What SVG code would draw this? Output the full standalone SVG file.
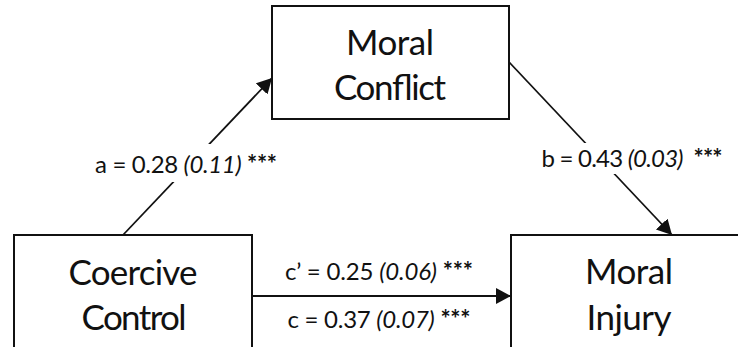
<svg xmlns="http://www.w3.org/2000/svg" width="738" height="347" viewBox="0 0 738 347">
  <style>
    .box { fill: #ffffff; stroke: #111111; stroke-width: 2; }
    .node-label { font-family: Lato, "Open Sans", "Liberation Sans", sans-serif; font-size: 35px; fill: #111111; text-anchor: middle; }
    .edge-label { font-family: Lato, "Open Sans", "Liberation Sans", sans-serif; font-size: 24px; fill: #111111; text-anchor: middle; white-space: pre; }
    .edge-label .se { font-style: italic; }
    .edge-label .sig { font-weight: bold; }
    .conn { stroke: #111111; stroke-width: 1.8; fill: none; marker-end: url(#head); }
    .knockout { fill: #ffffff; }
  </style>
  <defs>
    <marker id="head" markerUnits="userSpaceOnUse" markerWidth="16" markerHeight="17" refX="15" refY="8" orient="auto">
      <path d="M0,0 L15,8 L0,16 z" fill="#111111"/>
    </marker>
  </defs>

  <rect width="738" height="347" fill="#ffffff"/>

  <!-- paths between the three variables -->
  <g id="connectors">
    <line class="conn" x1="123" y1="235" x2="272" y2="78"/>
    <line class="conn" x1="509" y1="62" x2="672" y2="235"/>
    <line class="conn" x1="252" y1="296" x2="511" y2="296"/>
    <!-- clear the lines behind the path coefficients -->
    <rect class="knockout" x="150" y="144" width="80" height="38"/>
    <rect class="knockout" x="570" y="143" width="60" height="31"/>
    <text class="edge-label" x="186" y="173" textLength="182">a = 0.28 <tspan class="se">(0.11)</tspan> <tspan class="sig">***</tspan></text>
    <text class="edge-label" x="632" y="167" textLength="181">b = 0.43 <tspan class="se">(0.03)</tspan>  <tspan class="sig">***</tspan></text>
    <text class="edge-label" x="379" y="280" textLength="188">c’ = 0.25 <tspan class="se">(0.06)</tspan> <tspan class="sig">***</tspan></text>
    <text class="edge-label" x="379" y="328" textLength="183">c = 0.37 <tspan class="se">(0.07)</tspan> <tspan class="sig">***</tspan></text>
  </g>

  <g id="moral-conflict">
    <rect class="box" x="272" y="6" width="237" height="113"/>
    <text class="node-label" x="390" y="55" textLength="88">Moral</text>
    <text class="node-label" x="390" y="100" textLength="112">Conflict</text>
  </g>

  <g id="coercive-control">
    <rect class="box" x="14" y="235" width="238" height="130"/>
    <text class="node-label" x="133" y="285" textLength="129">Coercive</text>
    <text class="node-label" x="134" y="330" textLength="105">Control</text>
  </g>

  <g id="moral-injury">
    <rect class="box" x="511" y="235" width="240" height="130"/>
    <text class="node-label" x="629" y="284" textLength="88">Moral</text>
    <text class="node-label" x="629" y="330" textLength="85">Injury</text>
  </g>
</svg>
